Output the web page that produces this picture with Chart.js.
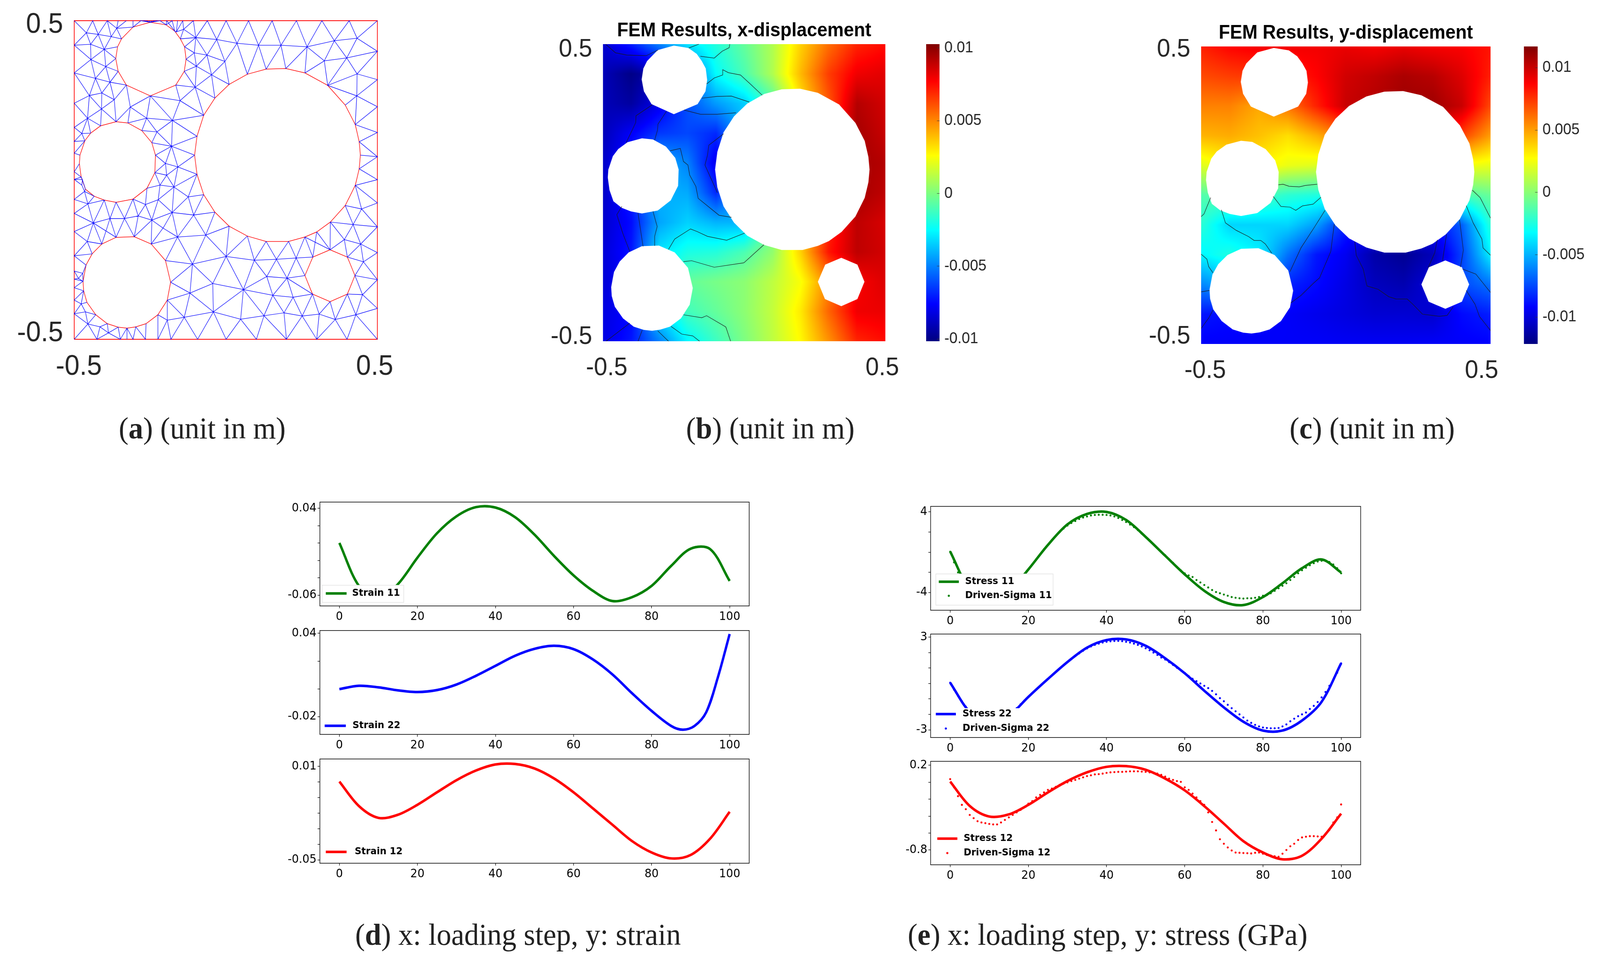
<!DOCTYPE html>
<html>
<head>
<meta charset="utf-8">
<script src="https://cdn.jsdelivr.net/npm/chart.js@4"></script>
<style>
    html, body { margin: 0; background: #fff; overflow: hidden; }
    #page { position: relative; width: 4312px; height: 2464px; overflow: hidden; background: #fff; transform-origin: 0 0; }
    canvas { position: absolute; }
    .caption { position: absolute; transform: translate(-50%, -50%); white-space: nowrap; font-family: "Liberation Serif", serif; font-size: 79px; color: #222; }
</style>
</head>
<body>
<div id="page"></div>
<script>
// all mesh / hole / contour coordinates are in mm (panel runs -500..500)
const holeA = [[-249,264],[-328,298],[-355,341],[-363,381],[-357,418],[-344,443],[-306,480],[-249,495],[-197,487],[-168,467],[-150,443],[-136,418],[-131,379],[-137,341],[-165,298]];
const holeBig = [[198,350],[133,348],[71,332],[11,300],[-36,257],[-73,203],[-95,137],[-103,78],[-95,18],[-73,-46],[-36,-101],[11,-145],[71,-176],[133,-193],[207,-193],[261,-179],[300,-163],[345,-132],[394,-80],[427,-17],[440,35],[444,78],[440,120],[427,174],[394,235],[336,297],[261,336]];
const holeMid = [[-362,183],[-413,170],[-446,147],[-465,123],[-481,78],[-483,51],[-477,9],[-463,-29],[-434,-51],[-401,-63],[-362,-70],[-306,-60],[-260,-26],[-234,23],[-232,78],[-244,117],[-277,155],[-323,179]];
const holeLow = [[-362,-180],[-409,-201],[-441,-232],[-461,-267],[-471,-318],[-469,-348],[-458,-384],[-429,-423],[-391,-451],[-355,-462],[-326,-465],[-297,-461],[-263,-451],[-224,-423],[-193,-377],[-182,-321],[-199,-253],[-246,-201],[-302,-178]];
const holeOct = [[344,-219],[287,-242],[261,-300],[286,-358],[344,-382],[401,-358],[426,-300],[401,-242]];

const meshTopX = [-500,-439,-391,-355,-328,-306,-280,-217,-195,-177,-159,-142,-107,-61,1,75,153,233,317,407,500];
const meshFanX = [-271,-262,-253,-244,-235,-226];
const meshLeftY = [500,423,336,241,165,121,84,26,2,-61,-105,-162,-238,-286,-311,-338,-377,-420,-500];
const meshRightY = [500,404,315,230,149,73,1,-72,-147,-228,-313,-403,-500];
const meshBottomX = [-500,-425,-399,-348,-326,-306,-265,-224,-181,-93,1,101,200,300,400,500];
const meshInner = {
    1:[-99,447],2:[-30,441],3:[37,429],4:[108,423],5:[182,423],6:[268,418],7:[358,437],8:[433,445],
    9:[-104,399],10:[-62,392],11:[-3,372],12:[325,374],13:[399,383],14:[-97,357],15:[-47,330],16:[433,333],
    17:[-101,291],18:[432,264],19:[-151,249],20:[-176,187],21:[-261,194],22:[-460,462],23:[-421,457],24:[-378,450],
    25:[-360,476],26:[-446,426],27:[-401,410],28:[-445,378],29:[-396,356],31:[-430,319],32:[-382,307],33:[-450,265],
    34:[-409,273],35:[-368,252],36:[-410,223],37:[-315,229],38:[-456,194],40:[-163,465],41:[-139,473],42:[-227,151],
    43:[-179,106],44:[-199,52],45:[-158,41],46:[-195,15],47:[-171,-22],48:[-217,-16],49:[-223,-62],50:[-265,-77],
    51:[-124,-53],52:[-177,-102],53:[-106,-110],54:[-244,-126],55:[-289,-113],56:[-334,-121],57:[-382,-121],58:[-437,-135],
    59:[-455,-75],60:[-207,-151],61:[-159,-179],62:[-66,-173],63:[-457,-193],64:[-110,-264],65:[1,-240],66:[94,-252],
    67:[167,-249],68:[232,-245],69:[135,-303],70:[202,-308],71:[-43,-325],72:[-118,-355],73:[58,-344],74:[155,-362],
    75:[222,-368],76:[192,-417],77:[126,-426],78:[49,-437],79:[-41,-414],80:[-137,-431],81:[-193,-440],82:[252,-427],
    83:[308,-421],84:[361,-438],85:[429,-423],86:[451,-360],87:[454,-257],88:[445,-201],89:[391,-187],90:[420,-140],
    91:[448,-91],92:[-455,-452],93:[-463,-414],94:[-477,-389],95:[-415,-461],96:[-387,-480],97:[-472,-293],98:[-486,-309],
    99:[-475,146],101:[-473,1],103:[-466,-36],104:[-475,-16]
};
const meshStrips = [
    't12 i1 t13 i2 t14 i3 t15 i4 t16 i5 t17 i6 t18 i7 t19 i8 t20',
    'a10 i1 i2 i3 i4 i5 i6 i7 i8 r1',
    'i9 i1 i10 i2 i11 i3 g2 i4 g1 i5 g0 i6 g26',
    'i6 i12 i7 i13 i8',
    'g26 i12 i13 r1 i16 r2 i18 r3 g23 r4 g22 r5 g21',
    'i12 g25 i13 i16 g25 i18 g24',
    'i16 i18 g23',
    'r5 g20 r6 g19 r7 i91 r8 i90 i91 g18 i90 g17 i89 i90',
    'g19 i91',
    'i90 i88 r8',
    'i89 i88 r9 i87 i88 o7 i89 o0 g17',
    'g16 o0 g15',
    'o7 i87 o6 r10 i87',
    'o6 i86 r10',
    'o5 i86 r11 i85 i86',
    'o5 i85 i84 o5',
    'i84 o4 i83 i84 b13 i83 o3 i82 i83',
    'i85 r12',
    'i85 b14 i84',
    'i82 b13',
    'i82 b12 i76 i82 i75 o3',
    'i75 i76 i77 b12',
    'i77 b11 i78 b10 i79 b9 i80 b8 i81 b7',
    'i77 i78 i79 i80 i81 s13',
    's14 i81',
    's14 i80 i72 s14',
    'i72 i79',
    'i72 i71 i79',
    's15 i72 i64 s15',
    'i64 i71 i65 i64 s16 i61 i64 i62 i61',
    'i62 i65 g11 i62',
    'g12 i65',
    'g12 i66 g13 i67 g14 i68 g15 o1 g16',
    'i65 i66 i67 i68 o1',
    'i65 i73 i71',
    'i73 i79',
    'i73 i78',
    'i73 i77',
    'i73 i66 i69 i67 i70 i68 o2',
    'i69 i70 o2',
    'i73 i69 i74 i70 i75',
    'i70 o3',
    'i73 i74 i75 o3',
    'i74 i77',
    'i74 i76',
    'g5 i20 i19 g5 i17 i19 a14 i17 a13 i14 a12 i9 a11 i1',
    'g4 i17 i15 g4',
    'i15 g3 i11 i15 i10 i14 i15',
    'i17 i14 i9 i10 i11',
    'a0 i19',
    'a0 i20',
    'a0 i37 i21 a0',
    'i37 m17',
    'i37 m0',
    'a1 i37',
    'a1 i35',
    'i21 i20',
    'm17 i21 m16 i42 i21',
    'm15 i42 i20 i43 i42',
    'i20 g6 i43 g7',
    'm15 i43 m14 i44 i43 i45 i44 i46 i45 g7',
    'i45 g8',
    'm13 i46',
    'm13 i44',
    'm13 i48 i46 i47 i45',
    'g8 i47 i48 m12',
    'i48 i49 i47 i51 g8',
    'g9 i51 i52 i47',
    'i51 i53 g9',
    'g10 i53 i52 i61 i53 i62 g10',
    'i49 i52',
    'i49 i54 i50 i49',
    'm12 i50 m11',
    'i50 i55 i54 i60 i52',
    'i54 i52',
    'i60 s17 i54 s18 i55',
    'i60 i61 s17',
    'm11 i55 i56 m11',
    'i56 s18',
    'i56 s0 i57 i56',
    'i56 m10 i57 m9 i58 i57 s1 i58 s0',
    'i59 m9',
    'i59 i58 l10 i59 l9 i103 i59',
    'l11 i58 i63 l11',
    'i63 s1',
    'i63 l12 s2 i63',
    'l12 s3 i97 l13 i98 i97 s4 i98 l14',
    'l14 s4',
    'l15 s4',
    'l15 s5 l16 i94 s6',
    's5 i94 l17 i93 i94',
    'l17 i92 i93 s7 i92 i95 s8 i96 s9 b3 i96 i95 b1 i92 l18',
    'i96 b1',
    's10 b3',
    's10 b4',
    's10 b5 s11 b6 s12',
    's13 b7',
    's13 i81',
    'i59 m8',
    't0 i22 t1 i23 t2 i24 i25 t2',
    'l1 i22 i23 i24 a5',
    'i22 i26 i23 i27 i24',
    'l1 i26 i27 i28 i26',
    'l1 i28 l2',
    'i27 a4',
    'i27 a3',
    'i27 i29 i28 i31 i29 a3',
    'a2 i29 i32 a2',
    'l2 i31 i33 l2',
    'i31 i32 i34 i31',
    'i32 a1',
    'i32 i35',
    'i33 i34 i35 i36 i34',
    'i33 l3 i38 i33 i36 i38',
    'i35 m0 i36 m1 i38',
    'i38 l4 i99 i38 m2',
    'i99 m2',
    'i99 m3 l5 i99',
    'l6 m3',
    'l6 m4',
    'l7 m5',
    'l7 m6 l8',
    'l8 i101 m6',
    'i101 m7',
    'i101 i104 l8',
    'i104 i103 l9',
    'i103 m7',
    'i103 m8',
    't3 i25 t4',
    'i25 a6',
    'i25 a5',
    't5 a6 t6 a7 f0 a7 f1 a7 f2 a7 f3 a7 f4 a7 f5 a7 t7 a8 t8 a9 t9 a8',
    't10 i40 a9',
    't11 i40 i41 a10',
    't11 i41 t12',
    'i41 i1'
];

const fieldXDisp = [
    [-8.6,-7,-5,-3,-1.8,-0.5,1,3.5,5.5,7,7.5],
    [-9,-10,-9,-6,-2.5,-1,1,4,6.5,8,8.3],
    [-9,-9.5,-8,-6,-4.5,-3.5,-1,3,6,9.2,8.6],
    [-9,-7.7,-6.5,-6.2,-6.8,-4,0,3,7,9.5,8.8],
    [-8.7,-7,-4,-5,-8,-4,0,3,7,9.5,9.2],
    [-8.7,-7,-4,-4.2,-6.8,-4,0,3,7,9.5,9],
    [-8.6,-7.4,-4.3,-3.4,-4,-4,0,3,7,9,8.5],
    [-8.4,-7.2,-3,-2,-1.8,-1,0.4,3.5,7.3,9,8.6],
    [-8.4,-7.5,-3,-0.5,-0.1,0.3,1.3,2.5,5,7.8,8.4],
    [-8.2,-7.5,-3,-1.2,-0.5,0.3,1.4,3,5.7,8,8.1],
    [-8.2,-7.2,-5,-2.6,-1.3,0,1.3,2.7,4.8,7,7.5]
];
const fieldYDisp = [
    [8,8.7,9,9,9,9.2,8.9,9.2,8.9,8.8,8.3],
    [7,7.3,7.5,8,8.7,9.8,10.2,10.7,10.4,9.5,8],
    [5.7,5.7,4.8,6,8,10,10.5,11,11,10,7],
    [4.5,4.7,4.2,3.5,4.6,6,8,9,9.5,7.2,5],
    [2,3,3,2.3,2,2,2.5,2.5,2.5,2.5,2.2],
    [-1.3,-1,-1.5,-2.2,-2.5,-2,-2,-2,-2,-1.5,-0.8],
    [-2.2,-4.2,-4.2,-4.2,-5.5,-8.5,-9,-9,-9,-7,-2.3],
    [-3.4,-2.5,-3.5,-6.5,-8.7,-9.5,-11.2,-11.7,-10.8,-7.7,-3.5],
    [-6,-5,-5.5,-8.4,-9,-9.8,-10.7,-11,-10,-7.5,-6.5],
    [-8.7,-9,-9.2,-9.3,-9.6,-9.9,-10.2,-10.2,-10.3,-9,-8.5],
    [-9.3,-9.3,-9.3,-9.3,-9.3,-9.4,-9.4,-9.4,-9.3,-9.3,-9.2]
];

const contoursX = [
    [[-491,500],[-456,471],[-415,463],[-347,461],[-305,480]],
    [[-160,500],[-196,487]],
    [[-155,459],[-106,453],[-78,476],[-53,488],[-51,500]],
    [[-133,366],[-106,386],[-76,396],[-76,414],[-56,404],[-13,396],[26,362],[64,328]],
    [[-150,318],[-95,324],[-45,325],[18,305]],
    [[-213,278],[-155,264],[-95,264],[-29,269]],
    [[-325,296],[-383,259],[-384,236],[-418,168]],
    [[-275,274],[-305,231],[-307,210],[-317,177]],
    [[-73,198],[-125,160],[-130,126],[-139,93],[-111,34],[-95,0]],
    [[-262,141],[-226,149],[-215,105],[-199,93],[-193,59],[-171,21],[-163,-19],[-89,-76],[-45,-83]],
    [[-433,-46],[-451,-74],[-429,-139],[-405,-198]],
    [[-376,-69],[-358,-181]],
    [[-323,-63],[-308,-114],[-317,-147],[-317,-179]],
    [[-268,-191],[-246,-156],[-190,-122],[-166,-131],[-130,-147],[-62,-160],[2,-136]],
    [[-215,-232],[-186,-229],[-106,-251],[-1,-236],[70,-175]],
    [[-215,-411],[-150,-421],[-133,-414],[-65,-452],[-48,-500]],
    [[-405,-439],[-489,-500]],
    [[-361,-463],[-376,-500]],
    [[-306,-465],[-268,-500]],
    [[-259,-450],[-221,-476],[-182,-482],[-158,-500]]
];
const contoursY = [
    [[-233,35],[-217,37],[-196,30],[-161,28],[-139,33],[-99,37]],
    [[-251,-4],[-224,-38],[-193,-40],[-173,-51],[-150,-36],[-113,-30],[-86,-7]],
    [[-500,-72],[-490,-63],[-467,-8]],
    [[-430,-49],[-416,-93],[-379,-118],[-336,-139],[-317,-152],[-294,-152],[-278,-164],[-256,-195]],
    [[-72,-51],[-107,-105],[-155,-177],[-193,-257]],
    [[-40,-97],[-52,-189],[-91,-278],[-111,-295],[-155,-337],[-190,-362]],
    [[31,-156],[36,-202],[60,-248],[73,-305],[111,-316],[148,-341],[174,-349],[212,-349],[231,-366],[265,-400],[323,-407],[350,-404],[371,-375]],
    [[316,-150],[307,-194],[284,-244]],
    [[348,-131],[334,-221]],
    [[393,-83],[406,-185],[396,-242]],
    [[416,-35],[440,-93],[470,-147],[474,-177],[500,-202]],
    [[437,17],[464,-8],[500,-77]],
    [[403,-248],[449,-265],[500,-327]],
    [[416,-320],[446,-366],[462,-408],[500,-455]],
    [[-500,-198],[-480,-215],[-474,-240],[-459,-261]],
    [[-500,-325],[-471,-320]],
    [[-500,-448],[-474,-413],[-459,-386]]
];

const colorbarXRange = [-0.01015, 0.01026];
const colorbarYRange = [-0.01215, 0.0117];
const colorbarTicks = [-0.01, -0.005, 0, 0.005, 0.01];

const loadingTicks = [0, 20, 40, 60, 80, 100];
const loadingSteps = [0,5,10,15,20,25,30,35,40,45,50,55,60,65,70,75,80,85,90,95,100];

const strain11 = [0.0002,-0.0493,-0.0652,-0.0473,-0.0168,0.0112,0.0308,0.0414,0.0409,0.0299,0.0097,-0.0148,-0.0372,-0.0551,-0.0668,-0.0623,-0.0493,-0.0263,-0.0065,-0.007,-0.0436];
const strain22Steps = [0,5,10,15,20,25,30,35,40,45,50,55,60,65,70,75,80,85,88,91,94,97,100];
const strain22 = [-0.0002,0.0022,0.0011,-0.0011,-0.0023,-0.0009,0.0031,0.0094,0.0166,0.0238,0.0288,0.031,0.0286,0.0211,0.0103,-0.0032,-0.0159,-0.0267,-0.0294,-0.0267,-0.0168,0.0085,0.0395];
const strain12 = [0.0003,-0.0154,-0.023,-0.021,-0.0146,-0.0066,0.0012,0.0074,0.0113,0.0116,0.0087,0.0023,-0.0066,-0.017,-0.0275,-0.0379,-0.0452,-0.049,-0.0468,-0.0363,-0.0191];

const stress11 = [0.07,-3.7,-4.9,-3.95,-1.71,0.72,2.76,3.8,4,3.2,1.52,-0.35,-2.2,-3.83,-4.94,-5.25,-4.45,-3.08,-1.59,-0.72,-2.01];
const stress22 = [0.05,-1.85,-2.65,-2.1,-0.87,0.29,1.39,2.32,2.81,2.85,2.44,1.63,0.66,-0.47,-1.55,-2.48,-3.05,-3.05,-2.4,-1.19,1.31];
const stress12 = [0.008,-0.28,-0.405,-0.38,-0.267,-0.12,0.014,0.117,0.182,0.19,0.147,0.043,-0.096,-0.282,-0.489,-0.696,-0.83,-0.91,-0.868,-0.667,-0.371];

// driven-sigma dots, one value per loading step 0..100
const sigma11 = [0.05,-1,-2,-2.8,-3.4,-4,-4.3,-4.6,-4.8,-4.85,-4.9,-4.85,-4.7,-4.5,-4.3,-4,-3.55,-3.1,-2.6,-2.15,-1.7,-1.2,-0.7,-0.2,0.3,0.75,1.2,1.6,2,2.35,2.65,2.9,3.1,3.3,3.45,3.55,3.65,3.7,3.72,3.72,3.7,3.65,3.55,3.4,3.2,3,2.75,2.5,2.2,1.85,1.5,1.15,0.8,0.4,0.05,-0.3,-0.7,-1.05,-1.45,-1.8,-2.1,-2.3,-2.46,-2.76,-3,-3.25,-3.5,-3.75,-3.95,-4.07,-4.2,-4.32,-4.45,-4.52,-4.57,-4.6,-4.57,-4.57,-4.52,-4.45,-4.32,-4.25,-4.07,-3.83,-3.58,-3.33,-3.08,-2.76,-2.46,-2.09,-1.79,-1.54,-1.29,-1.09,-0.92,-0.85,-0.85,-0.97,-1.22,-1.59,-2.09];
const sigma22 = [0.05,-0.4,-0.8,-1.15,-1.5,-1.8,-2.05,-2.25,-2.45,-2.55,-2.65,-2.65,-2.6,-2.45,-2.3,-2.1,-1.85,-1.6,-1.35,-1.1,-0.87,-0.62,-0.4,-0.17,0.07,0.3,0.52,0.75,0.97,1.18,1.4,1.6,1.78,1.95,2.12,2.27,2.4,2.5,2.58,2.65,2.7,2.73,2.75,2.76,2.74,2.7,2.65,2.58,2.5,2.4,2.28,2.15,2,1.85,1.68,1.55,1.38,1.2,1.02,0.85,0.68,0.48,0.3,0.15,0,-0.15,-0.3,-0.48,-0.7,-0.95,-1.15,-1.38,-1.6,-1.8,-2,-2.2,-2.4,-2.55,-2.68,-2.78,-2.85,-2.88,-2.9,-2.9,-2.88,-2.78,-2.65,-2.45,-2.28,-2.12,-2,-1.88,-1.65,-1.45,-1.2,-0.9,-0.55,-0.15,0.25,0.7,1.3];
const sigma12 = [0.037,-0.06,-0.164,-0.267,-0.318,-0.386,-0.424,-0.46,-0.475,-0.483,-0.492,-0.498,-0.498,-0.475,-0.445,-0.415,-0.386,-0.356,-0.327,-0.291,-0.253,-0.223,-0.179,-0.149,-0.12,-0.09,-0.075,-0.054,-0.031,-0.016,-0.001,0.014,0.028,0.043,0.058,0.073,0.082,0.093,0.096,0.102,0.111,0.117,0.12,0.123,0.123,0.126,0.129,0.129,0.129,0.126,0.123,0.117,0.108,0.102,0.088,0.067,0.043,0.028,0.014,0.005,-0.06,-0.09,-0.134,-0.179,-0.223,-0.267,-0.356,-0.469,-0.569,-0.673,-0.726,-0.77,-0.806,-0.83,-0.833,-0.836,-0.838,-0.841,-0.833,-0.83,-0.844,-0.859,-0.865,-0.874,-0.88,-0.844,-0.8,-0.756,-0.726,-0.682,-0.652,-0.643,-0.637,-0.637,-0.64,-0.643,-0.608,-0.563,-0.475,-0.415,-0.262];

const page = document.getElementById('page');
// the window can come up narrower than the 4312px layout, keep every panel on screen
page.style.transform = 'scaleX(' + Math.min(1, window.innerWidth / 4312) + ')';

const holes = [holeA, holeBig, holeMid, holeLow, holeOct];
const jetStops = [[0,0,0,128],[0.125,0,0,255],[0.375,0,255,255],[0.625,255,255,0],[0.875,255,0,0],[1,128,0,0]];

function jet(t) {
    t = Math.max(0, Math.min(1, t));
    for (let i = 1; i < jetStops.length; i++) {
        if (t <= jetStops[i][0]) {
            const a = jetStops[i - 1], b = jetStops[i];
            const f = (t - a[0]) / (b[0] - a[0]);
            return [a[1] + f * (b[1] - a[1]), a[2] + f * (b[2] - a[2]), a[3] + f * (b[3] - a[3])];
        }
    }
    return [128, 0, 0];
}

function toPoints(list) {
    return list.map(p => ({ x: p[0] / 1000, y: p[1] / 1000 }));
}

function withGaps(lists) {
    const out = [];
    lists.forEach(list => {
        toPoints(list).forEach(p => out.push(p));
        out.push({ x: NaN, y: NaN });
    });
    return out;
}

function buildMeshNodes() {
    const nodes = {};
    meshTopX.forEach((x, i) => { nodes['t' + i] = [x, 500]; });
    meshFanX.forEach((x, i) => { nodes['f' + i] = [x, 500]; });
    meshLeftY.forEach((y, i) => { nodes['l' + i] = [-500, y]; });
    meshRightY.forEach((y, i) => { nodes['r' + i] = [500, y]; });
    meshBottomX.forEach((x, i) => { nodes['b' + i] = [x, -500]; });
    holeA.forEach((p, i) => { nodes['a' + i] = p; });
    holeBig.forEach((p, i) => { nodes['g' + i] = p; });
    holeMid.forEach((p, i) => { nodes['m' + i] = p; });
    holeLow.forEach((p, i) => { nodes['s' + i] = p; });
    holeOct.forEach((p, i) => { nodes['o' + i] = p; });
    Object.keys(meshInner).forEach(k => { nodes['i' + k] = meshInner[k]; });
    return nodes;
}

function fixedTicks(values) {
    return scale => { scale.ticks = values.map(v => ({ value: v })); };
}

function fixedSize(size) {
    return scale => {
        if (scale.isHorizontal()) scale.height = size; else scale.width = size;
        scale.paddingLeft = scale.paddingRight = scale.paddingTop = scale.paddingBottom = 0;
    };
}

function addCanvas(left, top, width, height) {
    const canvas = document.createElement('canvas');
    canvas.width = width;
    canvas.height = height;
    canvas.style.left = left + 'px';
    canvas.style.top = top + 'px';
    canvas.style.width = width + 'px';
    canvas.style.height = height + 'px';
    page.appendChild(canvas);
    return canvas;
}

function baseOptions(padding) {
    return {
        responsive: false,
        animation: false,
        devicePixelRatio: 1,
        layout: { padding },
        plugins: { legend: { display: false }, tooltip: { enabled: false }, title: { display: false } }
    };
}

function domainScale(labelAt, size, font, padding, color, isY) {
    return {
        type: 'linear',
        min: -0.5,
        max: 0.5,
        position: isY ? 'left' : 'bottom',
        grid: { display: false },
        border: { display: false },
        afterBuildTicks: fixedTicks(labelAt),
        afterFit: fixedSize(size),
        ticks: {
            autoSkip: false,
            maxRotation: 0,
            minRotation: 0,
            padding: padding,
            color: color,
            font: { family: 'Liberation Sans', size: font },
            callback: v => (v < 0 ? '-0.5' : '0.5')
        }
    };
}

// ---- (a) mesh ----
function createMeshChart() {
    const frame = { left: 200, top: 53, width: 817, height: 816 };
    const m = { l: 200, t: 53, r: 60, b: 110 };
    const canvas = addCanvas(frame.left - m.l, frame.top - m.t, m.l + frame.width + m.r, m.t + frame.height + m.b);
    const nodes = buildMeshNodes();
    const edges = meshStrips.map(s => s.split(' ').map(n => nodes[n]).filter(Boolean));
    const options = baseOptions({ left: 0, top: m.t, right: m.r, bottom: 0 });
    options.scales = {
        x: domainScale([-0.485, 0.491], m.b, 72, 20, '#262626', false),
        y: domainScale([-0.482, 0.4865], m.l, 72, 22, '#262626', true)
    };
    const frameEdge = [[-500, -500], [-500, 500], [500, 500], [500, -500], [-500, -500]];
    new Chart(canvas, {
        type: 'scatter',
        data: {
            datasets: [
                { data: withGaps(edges), showLine: true, borderColor: '#0000ff', borderWidth: 1.3, pointRadius: 0, borderDash: [5000, 0], clip: 3 },
                { data: withGaps(holes.map(h => h.concat([h[0]]))), showLine: true, borderColor: '#ff0000', borderWidth: 1.5, pointRadius: 0, borderDash: [5000, 0] },
                { data: toPoints(frameEdge), showLine: true, borderColor: '#ff0000', borderWidth: 1.8, pointRadius: 0, borderDash: [5000, 0], clip: 3 }
            ]
        },
        options
    });
}

// ---- (b) (c) displacement fields ----
function fieldPlugin(field, range) {
    return {
        id: 'field',
        beforeDatasetsDraw(chart) {
            const { ctx, chartArea: area, scales: { x, y } } = chart;
            const w = Math.ceil(area.width), h = Math.ceil(area.height);
            const off = document.createElement('canvas');
            off.width = w;
            off.height = h;
            const offCtx = off.getContext('2d');
            const img = offCtx.createImageData(w, h);
            const n = field.length - 1;
            for (let j = 0; j < h; j++) {
                const gy = (0.5 - y.getValueForPixel(area.top + j + 0.5)) * n;
                const r0 = Math.max(0, Math.min(n - 1, Math.floor(gy)));
                const fy = Math.max(0, Math.min(1, gy - r0));
                for (let i = 0; i < w; i++) {
                    const gx = (x.getValueForPixel(area.left + i + 0.5) + 0.5) * n;
                    const c0 = Math.max(0, Math.min(n - 1, Math.floor(gx)));
                    const fx = Math.max(0, Math.min(1, gx - c0));
                    const top = field[r0][c0] * (1 - fx) + field[r0][c0 + 1] * fx;
                    const bot = field[r0 + 1][c0] * (1 - fx) + field[r0 + 1][c0 + 1] * fx;
                    const v = (top * (1 - fy) + bot * fy) / 1000;
                    const rgb = jet((v - range[0]) / (range[1] - range[0]));
                    const k = (j * w + i) * 4;
                    img.data[k] = rgb[0];
                    img.data[k + 1] = rgb[1];
                    img.data[k + 2] = rgb[2];
                    img.data[k + 3] = 255;
                }
            }
            offCtx.putImageData(img, 0, 0);
            ctx.drawImage(off, area.left, area.top, area.width, area.height);

            ctx.fillStyle = '#ffffff';
            holes.forEach(hole => {
                ctx.beginPath();
                hole.forEach((p, i) => {
                    const px = x.getPixelForValue(p[0] / 1000), py = y.getPixelForValue(p[1] / 1000);
                    if (i === 0) ctx.moveTo(px, py); else ctx.lineTo(px, py);
                });
                ctx.closePath();
                ctx.fill();
            });
        }
    };
}

function createFieldChart(cfg) {
    const frame = cfg.frame;
    const m = { l: 200, t: frame.top, r: 60, b: 100 };
    const canvas = addCanvas(frame.left - m.l, 0, m.l + frame.width + m.r, m.t + frame.height + m.b);
    const options = baseOptions({ left: 0, top: m.t - 63.4, right: m.r, bottom: 0 });
    options.plugins.title = {
        display: true,
        text: cfg.title,
        color: '#000',
        fullSize: false, // centred over the field, not the whole canvas
        padding: { top: 0, bottom: 4 },
        font: { family: 'Liberation Sans', size: 49.5, weight: 'bold', lineHeight: 1.2 }
    };
    options.scales = {
        x: domainScale(cfg.xLabelAt, m.b, 65, 22, '#262626', false),
        y: domainScale(cfg.yLabelAt, m.l, 65, 21, '#262626', true)
    };
    new Chart(canvas, {
        type: 'scatter',
        data: {
            datasets: [{ data: withGaps(cfg.contours), showLine: true, borderColor: '#1a1a1a', borderWidth: 1.2, pointRadius: 0, borderDash: [5000, 0] }]
        },
        options,
        plugins: [fieldPlugin(cfg.field, cfg.range)]
    });
}

function createColorbar(cfg) {
    const m = { t: 20, r: 160, b: 20 };
    const canvas = addCanvas(cfg.left, cfg.top - m.t, cfg.width + m.r, cfg.height + m.t + m.b);
    const options = baseOptions({ left: 0, top: m.t, right: 0, bottom: m.b });
    options.scales = {
        x: { display: false },
        y: {
            type: 'linear',
            position: 'right',
            min: cfg.range[0],
            max: cfg.range[1],
            afterBuildTicks: fixedTicks(colorbarTicks),
            afterFit: fixedSize(m.r),
            border: { display: false },
            grid: { drawOnChartArea: false, tickLength: -7, color: '#333', z: 1 },
            ticks: {
                autoSkip: false,
                padding: 20,
                color: '#262626',
                font: { family: 'Liberation Sans', size: 40 },
                callback: v => String(v)
            }
        }
    };
    new Chart(canvas, {
        type: 'bar',
        data: {
            labels: ['jet'],
            datasets: [{
                data: [[cfg.range[0], cfg.range[1]]],
                barPercentage: 1,
                categoryPercentage: 1,
                borderWidth: 0,
                backgroundColor: ctx => {
                    const area = ctx.chart.chartArea;
                    if (!area) return '#000';
                    const g = ctx.chart.ctx.createLinearGradient(0, area.bottom, 0, area.top);
                    jetStops.forEach(s => g.addColorStop(s[0], `rgb(${s[1]},${s[2]},${s[3]})`));
                    return g;
                }
            }]
        },
        options
    });
}

// ---- (d) (e) loading curves ----
function curvePlugin(cfg, canvasLeft, canvasTop) {
    return {
        id: 'curveDecor',
        afterDatasetsDraw(chart) {
            const { ctx, chartArea: area } = chart;
            const lg = cfg.legend;
            const bx = lg.box[0] - canvasLeft, by = lg.box[1] - canvasTop;
            ctx.save();
            ctx.fillStyle = '#fff';
            ctx.fillRect(bx, by, lg.box[2], lg.box[3]);
            if (lg.outline) {
                ctx.strokeStyle = '#e2e2e2';
                ctx.lineWidth = 1.5;
                ctx.strokeRect(bx, by, lg.box[2], lg.box[3]);
            }
            ctx.font = 'bold 25px "DejaVu Sans"';
            ctx.textBaseline = 'middle';
            ctx.textAlign = 'left';
            lg.rows.forEach(row => {
                const ry = row.y - canvasTop;
                if (row.dot) {
                    ctx.fillStyle = cfg.color;
                    ctx.beginPath();
                    ctx.arc((lg.lineX[0] + lg.lineX[1]) / 2 - canvasLeft, ry, 2.8, 0, Math.PI * 2);
                    ctx.fill();
                } else {
                    ctx.strokeStyle = cfg.color;
                    ctx.lineWidth = 6.5;
                    ctx.beginPath();
                    ctx.moveTo(lg.lineX[0] - canvasLeft, ry);
                    ctx.lineTo(lg.lineX[1] - canvasLeft, ry);
                    ctx.stroke();
                }
                ctx.fillStyle = '#000';
                ctx.fillText(row.label, lg.textX - canvasLeft, ry - 1);
            });
            ctx.strokeStyle = '#000';
            ctx.lineWidth = 1.6;
            ctx.strokeRect(area.left, area.top, area.width, area.height);
            ctx.restore();
        }
    };
}

function createCurveChart(cfg) {
    const frame = cfg.frame;
    const m = { l: 110, t: 20, r: 30, b: 56 };
    const left = frame.left - m.l, top = frame.top - m.t;
    const canvas = addCanvas(left, top, m.l + frame.width + m.r, m.t + frame.height + m.b);
    const options = baseOptions({ left: 0, top: m.t, right: m.r, bottom: 0 });
    const tickFont = { family: 'DejaVu Sans', size: 30 };
    options.scales = {
        x: {
            type: 'linear',
            min: -5,
            max: 105,
            afterBuildTicks: fixedTicks(loadingTicks),
            afterFit: fixedSize(m.b),
            border: { display: false },
            grid: { drawOnChartArea: false, tickLength: 6, color: '#000', lineWidth: 1.4 },
            ticks: { autoSkip: false, maxRotation: 0, padding: 4, color: '#000', font: tickFont, callback: v => String(v) }
        },
        y: {
            type: 'linear',
            min: cfg.range[0],
            max: cfg.range[1],
            afterBuildTicks: fixedTicks(cfg.ticks),
            afterFit: fixedSize(m.l),
            border: { display: false },
            grid: { drawOnChartArea: false, tickLength: 6, color: '#000', lineWidth: 1.4 },
            ticks: {
                autoSkip: false,
                padding: 3,
                color: '#000',
                font: tickFont,
                callback: (v, i, t) => (i === 0 || i === t.length - 1 ? String(v) : '')
            }
        }
    };
    const datasets = [{
        data: cfg.steps.map((s, i) => ({ x: s, y: cfg.values[i] })),
        showLine: true,
        borderColor: cfg.color,
        borderWidth: 6.5,
        pointRadius: 0,
        tension: 0.33,
        clip: false
    }];
    if (cfg.dots) {
        datasets.push({
            data: cfg.dots.map((v, i) => ({ x: i, y: v })),
            showLine: false,
            backgroundColor: cfg.color,
            borderWidth: 0,
            pointRadius: 2.6
        });
    }
    new Chart(canvas, { type: 'scatter', data: { datasets }, options, plugins: [curvePlugin(cfg, left, top)] });
}

function addCaption(letter, text, x, y) {
    const div = document.createElement('div');
    div.className = 'caption';
    div.style.left = x + 'px';
    div.style.top = y + 'px';
    div.innerHTML = '(<b>' + letter + '</b>) ' + text;
    page.appendChild(div);
}

createMeshChart();

createFieldChart({
    frame: { left: 1625, top: 113, width: 761, height: 761 },
    title: 'FEM Results, x-displacement',
    field: fieldXDisp,
    range: colorbarXRange,
    contours: contoursX,
    xLabelAt: [-0.487, 0.489],
    yLabelAt: [-0.4855, 0.482]
});
createColorbar({ left: 2496, top: 113, width: 36, height: 761, range: colorbarXRange });

createFieldChart({
    frame: { left: 3237, top: 119, width: 780, height: 762 },
    title: 'FEM Results, y-displacement',
    field: fieldYDisp,
    range: colorbarYRange,
    contours: contoursY,
    xLabelAt: [-0.486, 0.469],
    yLabelAt: [-0.475, 0.49]
});
createColorbar({ left: 4107, top: 119, width: 37, height: 762, range: colorbarYRange });

createCurveChart({
    frame: { left: 862, top: 1286, width: 1157, height: 266 },
    steps: loadingSteps, values: strain11, color: '#008000',
    range: [-0.0724, 0.0472], ticks: [-0.06, -0.04, -0.02, 0, 0.02, 0.04],
    legend: { box: [868, 1499, 220, 44], outline: true, lineX: [878, 934], textX: 949, rows: [{ label: 'Strain 11', y: 1520 }] }
});
createCurveChart({
    frame: { left: 862, top: 1615, width: 1157, height: 266 },
    steps: strain22Steps, values: strain22, color: '#0000ff',
    range: [-0.0328, 0.042], ticks: [-0.02, 0, 0.02, 0.04],
    legend: { box: [868, 1840, 222, 40], outline: false, lineX: [875, 932], textX: 950, rows: [{ label: 'Strain 22', y: 1859 }] }
});
createCurveChart({
    frame: { left: 862, top: 1944, width: 1157, height: 267 },
    steps: loadingSteps, values: strain12, color: '#ff0000',
    range: [-0.0521, 0.0148], ticks: [-0.05, -0.04, -0.03, -0.02, -0.01, 0, 0.01],
    legend: { box: [872, 2164, 162, 38], outline: false, lineX: [878, 934], textX: 956, rows: [{ label: 'Strain 12', y: 2182 }] }
});

createCurveChart({
    frame: { left: 2508, top: 1297, width: 1159, height: 266 },
    steps: loadingSteps, values: stress11, dots: sigma11, color: '#008000',
    range: [-5.76, 4.55], ticks: [-4, -2, 0, 2, 4],
    legend: { box: [2522, 1470, 316, 80], outline: true, lineX: [2530, 2584], textX: 2601, rows: [{ label: 'Stress 11', y: 1490 }, { label: 'Driven-Sigma 11', y: 1526, dot: true }] }
});
createCurveChart({
    frame: { left: 2508, top: 1624, width: 1159, height: 265 },
    steps: loadingSteps, values: stress22, dots: sigma22, color: '#0000ff',
    range: [-3.5, 3.2], ticks: [-3, -2, -1, 0, 1, 2, 3],
    legend: { box: [2513, 1814, 309, 71], outline: false, lineX: [2522, 2576], textX: 2594, rows: [{ label: 'Stress 22', y: 1829 }, { label: 'Driven-Sigma 22', y: 1866, dot: true }] }
});
createCurveChart({
    frame: { left: 2508, top: 1950, width: 1159, height: 265 },
    steps: loadingSteps, values: stress12, dots: sigma12, color: '#ff0000',
    range: [-0.975, 0.247], ticks: [-0.8, -0.6, -0.4, -0.2, 0, 0.2],
    legend: { box: [2517, 2132, 309, 73], outline: false, lineX: [2526, 2580], textX: 2597, rows: [{ label: 'Stress 12', y: 2148 }, { label: 'Driven-Sigma 12', y: 2185, dot: true }] }
});

addCaption('a', '(unit in m)', 545, 1097);
addCaption('b', '(unit in m)', 2076, 1097);
addCaption('c', '(unit in m)', 3698, 1097);
addCaption('d', 'x: loading step, y: strain', 1396, 2394);
addCaption('e', 'x: loading step, y: stress (GPa)', 2985, 2394);
</script>
</body>
</html>
